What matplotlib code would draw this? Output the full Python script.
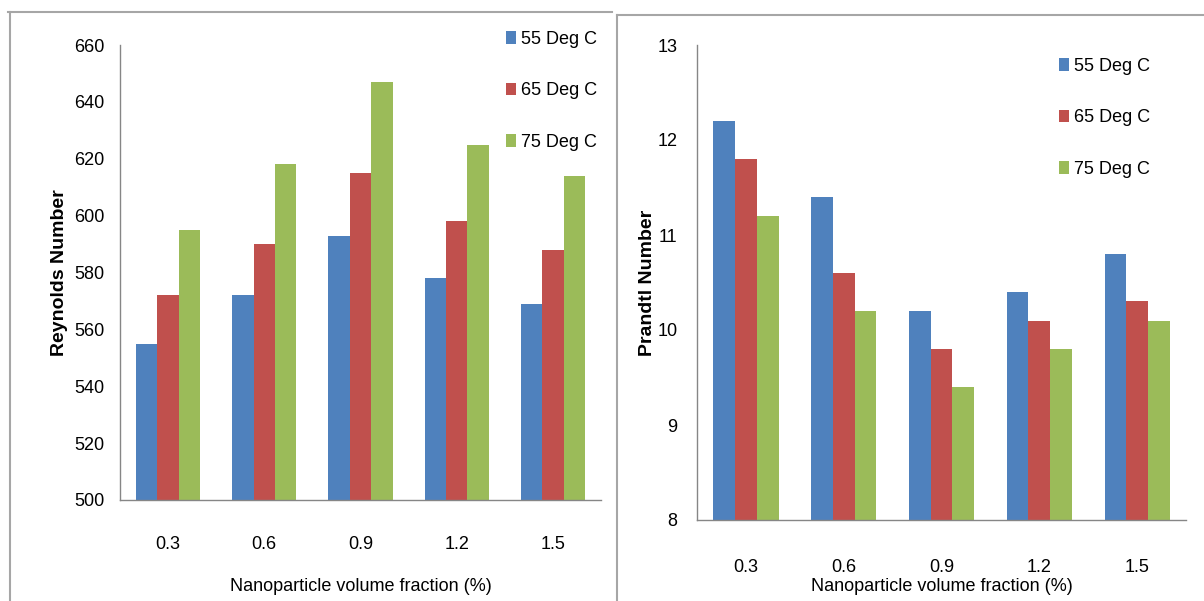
"""Reynolds and Prandtl number vs nanoparticle volume fraction (two bar panels)."""

import matplotlib

matplotlib.use("Agg")
import matplotlib.pyplot as plt
import numpy as np
from matplotlib.lines import Line2D

plt.rcParams["font.family"] = ["Liberation Sans", "DejaVu Sans"]

# --- data ---
fractions = ["0.3", "0.6", "0.9", "1.2", "1.5"]
series_names = ["55 Deg C", "65 Deg C", "75 Deg C"]
colors = ["#4F81BD", "#C0504D", "#9BBB59"]

reynolds_55 = [555, 572, 593, 578, 569]
reynolds_65 = [572, 590, 615, 598, 588]
reynolds_75 = [595, 618, 647, 625, 614]

prandtl_55 = [12.2, 11.4, 10.2, 10.4, 10.8]
prandtl_65 = [11.8, 10.6, 9.8, 10.1, 10.3]
prandtl_75 = [11.2, 10.2, 9.4, 9.8, 10.1]

W, H = 1204, 601
fig = plt.figure(figsize=(W / 100, H / 100), dpi=100)


def px_axes(box):
    """axes from pixel box (x0, y0, x1, y1), top-left origin."""
    x0, y0, x1, y1 = box
    return fig.add_axes([x0 / W, (H - y1) / H, (x1 - x0) / W, (y1 - y0) / H])


def bar_panel(ax, box, groups, ylim, yticks, ylabel, xpad, ypad, ylabel_x, xlabel_top, legend_at):
    x0, y0, x1, y1 = box
    n = len(fractions)
    x = np.arange(n)
    w = 1 / 4.5
    handles = []
    for k, (vals, c) in enumerate(zip(groups, colors)):
        handles.append(ax.bar(x + (k - 1) * w, vals, width=w, color=c, edgecolor="none"))
    ax.set_xlim(-0.5, n - 0.5)
    ax.set_ylim(*ylim)
    ax.set_yticks(yticks)
    ax.set_xticks(x, fractions)
    for side in ("top", "right"):
        ax.spines[side].set_visible(False)
    for side in ("left", "bottom"):
        ax.spines[side].set_color("#868686")
        ax.spines[side].set_linewidth(1.0)
    ax.tick_params(axis="y", length=0, pad=ypad, labelsize=13)
    ax.tick_params(axis="x", length=0, pad=xpad, labelsize=13)
    ax.set_ylabel(ylabel, fontsize=14, fontweight="bold")
    ax.yaxis.set_label_coords((ylabel_x - x0) / (x1 - x0), 0.5)
    ax.set_xlabel("Nanoparticle volume fraction (%)", fontsize=13)
    ax.xaxis.set_label_coords(0.5, -(xlabel_top - y1) / (y1 - y0))
    fig.legend(handles, series_names, loc="upper left",
               bbox_to_anchor=(legend_at[0] / W, 1 - legend_at[1] / H),
               frameon=False, fontsize=13, handlelength=0.55, handleheight=0.7,
               handletextpad=0.3, labelspacing=1.9, borderpad=0, borderaxespad=0)


box1 = (120, 45, 601, 500)
ax1 = px_axes(box1)
bar_panel(ax1, box1, [reynolds_55, reynolds_65, reynolds_75], (500, 660),
          np.arange(500, 661, 20), "Reynolds Number", 26, 11, 68, 578, (506, 31))

box2 = (697, 45, 1186, 520)
ax2 = px_axes(box2)
bar_panel(ax2, box2, [prandtl_55, prandtl_65, prandtl_75], (8, 13),
          np.arange(8, 14, 1), "Prandtl Number", 28, 14, 656, 578, (1059, 58))

# panel frames (screenshot borders)
frame = dict(color="#a6a6a6", linewidth=1.5)
for xs, ys in [((8, 612), (12, 12)), ((10, 10), (12, 601)),
               ((617, 1204), (15, 15)), ((617, 617), (15, 601))]:
    fig.add_artist(Line2D([v / W for v in xs], [1 - v / H for v in ys],
                          transform=fig.transFigure, **frame))

fig.savefig("out.png", dpi=100)
